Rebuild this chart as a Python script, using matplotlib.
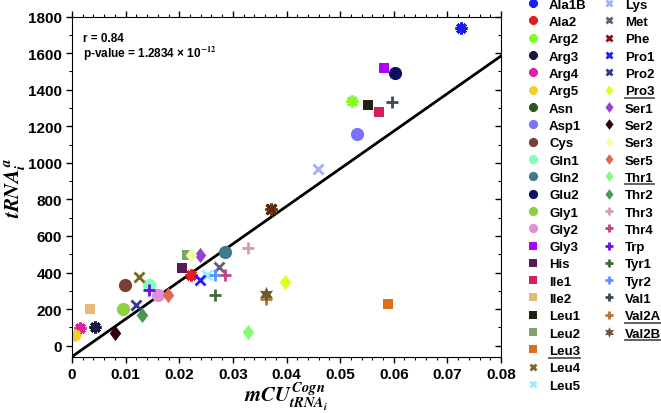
import numpy as np
import matplotlib
matplotlib.use("Agg")
import matplotlib.pyplot as plt
from matplotlib.lines import Line2D

plt.rcParams['font.family'] = ['Liberation Sans', 'DejaVu Sans']
plt.rcParams['font.weight'] = 'bold'
plt.rcParams['mathtext.fontset'] = 'stix'

# tRNA names, codon usage (x) and tRNA abundance (y)
names = ['Ala1B', 'Ala2', 'Arg2', 'Arg3', 'Arg4', 'Arg5', 'Asn',
         'Asp1', 'Cys', 'Gln1', 'Gln2', 'Glu2', 'Gly1', 'Gly2',
         'Gly3', 'His', 'Ile1', 'Ile2', 'Leu1', 'Leu2', 'Leu3',
         'Leu4', 'Leu5', 'Lys', 'Met', 'Phe', 'Pro1', 'Pro2',
         'Pro3', 'Ser1', 'Ser2', 'Ser3', 'Ser5', 'Thr1', 'Thr2',
         'Thr3', 'Thr4', 'Trp', 'Tyr1', 'Tyr2', 'Val1', 'Val2A', 'Val2B']
mcu = [0.0725, 0.0221, 0.0522, 0.0042, 0.0015, 0.0006, 0.0372,
       0.0532, 0.0098, 0.0144, 0.0285, 0.0602, 0.0096, 0.0160,
       0.0582, 0.0205, 0.0573, 0.0034, 0.0552, 0.0215, 0.0589,
       0.0125, 0.0252, 0.0459, 0.0275, 0.0372, 0.0238, 0.0120,
       0.0398, 0.0238, 0.0081, 0.0221, 0.0179, 0.0329, 0.0130,
       0.0329, 0.0285, 0.0143, 0.0266, 0.0267, 0.0597, 0.0361, 0.0361]
trna = [1735, 385, 1337, 100, 94, 60, 748,
        1156, 334, 330, 514, 1491, 202, 277,
        1519, 422, 1277, 198, 1315, 495, 229,
        374, 385, 968, 428, 748, 358, 220,
        348, 495, 71, 495, 277, 75, 165,
        532, 387, 303, 277, 385, 1332, 253, 281]
colors = ['#1a1aff', '#e0201e', '#80ff20', '#1a1a40', '#e020a0', '#f0d030', '#2d5a1b',
          '#7b72ff', '#7a4035', '#80ffb8', '#3f7a8c', '#101060', '#90d040', '#e090d8',
          '#b000ff', '#5a1a5a', '#d0205a', '#e8b878', '#202014', '#80a070', '#d87020',
          '#7a6a20', '#90f0ff', '#a0b0ff', '#6a5a7a', '#8a1010', '#2020ff', '#303a90',
          '#e0ff20', '#9a40d0', '#300010', '#f0ffa8', '#e06a50', '#80ff70', '#4a9a50',
          '#d0a0a8', '#c04080', '#6a10e0', '#3a6a40', '#6090ff', '#3a4a5a', '#c07030', '#6a5a30']
underlined = ['Leu3', 'Pro3', 'Thr1', 'Val2A', 'Val2B']

# regression line
fit_intercept = -60
fit_slope = 20550
fit_x = [0, 0.08]

r_text = 'r = 0.84'
p_text = r'p-value = 1.2834 × 10$^{\mathbf{-12}}$'

diamond = [(0, 1), (0.75, 0), (0, -1), (-0.75, 0), (0, 1)]


def marker_style(name):
    i = names.index(name)
    if i < 7:
        return dict(marker=(8, 2, 0), markersize=8.5, mew=2.2)
    if i < 14:
        return dict(marker='o', markersize=9.5, mew=0)
    if i < 21:
        return dict(marker='s', markersize=7.5, mew=0)
    if i < 28:
        return dict(marker='x', markersize=6.5, mew=2)
    if i < 35:
        return dict(marker=diamond, markersize=11, mew=0)
    if i < 42:
        return dict(marker='+', markersize=9, mew=2)
    return dict(marker=(6, 1, 0), markersize=11, mew=0)


fig = plt.figure(figsize=(6.61, 4.14), dpi=100)
ax = fig.add_axes([72 / 661, 1 - 358 / 414, 429 / 661, 340.5 / 414])

handles = []
for n, x, y, c in zip(names, mcu, trna, colors):
    st = marker_style(n)
    h, = ax.plot([x], [y], linestyle='none', color=c, markeredgecolor=c, label=n, **st)
    handles.append(h)

fx = np.array(fit_x)
ax.plot(fx, fit_intercept + fit_slope * fx, color='black', lw=2, zorder=1)

ax.set_xlim(0, 0.08)
ax.set_ylim(-62, 1800)
ax.set_xticks(np.arange(0, 0.081, 0.01))
ax.set_xticklabels(['0'] + ['%.2f' % v for v in np.arange(0.01, 0.081, 0.01)])
ax.set_xticks(np.arange(0, 0.0801, 0.002), minor=True)
ax.set_yticks(np.arange(0, 1801, 200))
ax.set_yticks(np.arange(0, 1801, 100), minor=True)
ax.tick_params(axis='both', which='major', labelsize=11, length=4, width=1, direction='out', pad=3)
ax.tick_params(axis='both', which='minor', length=2, width=0.8, direction='out')
ax.tick_params(top=True, right=True, which='both')
for lab in ax.get_xticklabels() + ax.get_yticklabels():
    lab.set_fontweight('bold')

# right spine ticks drawn inward
for t in ax.yaxis.get_major_ticks() + ax.yaxis.get_minor_ticks():
    t.tick2line.set_marker(matplotlib.markers.TICKLEFT)

ax.text(0.026, 0.937, r_text, transform=ax.transAxes, fontsize=8.5, fontweight='bold',
        va='center', ha='left')
ax.text(0.026, 0.893, p_text, transform=ax.transAxes, fontsize=8.5, fontweight='bold',
        va='center', ha='left')

ax.set_xlabel(r'$mCU_{tRNA_i}^{Cogn}$', fontsize=15, labelpad=-1)
ax.set_ylabel(r'$tRNA_i^a$', fontsize=15, labelpad=1)

blank = [Line2D([], [], linestyle='none') for _ in range(3)]
leg = fig.legend(handles[:23] + handles[23:] + blank,
                 names[:23] + names[23:] + ['', '', ''],
                 ncol=2, loc='upper left', bbox_to_anchor=(520 / 661, 1.014),
                 frameon=False, prop={'weight': 'bold', 'size': 9.5},
                 labelspacing=0.385, handlelength=1.2, handletextpad=0.6,
                 columnspacing=1.1, borderaxespad=0, markerscale=0.7)

fig.canvas.draw()
renderer = fig.canvas.get_renderer()
for txt in leg.get_texts():
    if txt.get_text() in underlined:
        bb = txt.get_window_extent(renderer)
        y = (bb.y0 - 0.5) / fig.bbox.height
        fig.add_artist(Line2D([bb.x0 / fig.bbox.width, bb.x1 / fig.bbox.width], [y, y],
                              color='#555555', lw=1.3, transform=fig.transFigure))

fig.savefig('out.png', dpi=100)
